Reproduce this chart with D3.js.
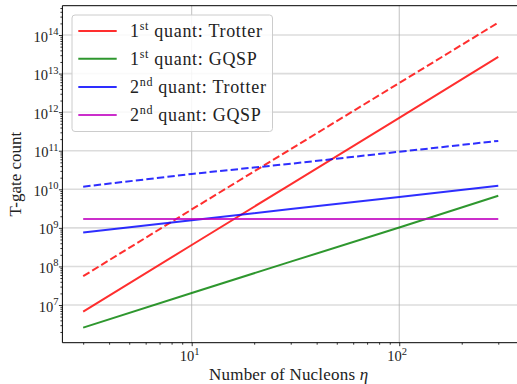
<!DOCTYPE html>
<html><head><meta charset="utf-8">
<script src="https://cdn.jsdelivr.net/npm/d3@7"></script>
<style>body{margin:0;background:#fff}svg{display:block}</style>
</head><body><svg id="c" width="517" height="384"></svg>
<script>
const eta = [3, 10, 30, 100, 300];
const firstTrotter = [6.7e6, 3.6e8, 1.35e10, 7.1e11, 2.7e13];
const firstTrotterDashed = [5.6e7, 3.0e9, 1.1e11, 5.7e12, 2.1e14];
const firstGQSP = [2.6e6, 2.05e7, 1.33e8, 1.02e9, 6.8e9];
const secondTrotter = [7.6e8, 1.57e9, 3.1e9, 6.3e9, 1.24e10];
const secondTrotterDashed = [1.17e10, 2.5e10, 4.6e10, 9.4e10, 1.8e11];
const secondGQSP = [1.71e9, 1.71e9, 1.71e9, 1.71e9, 1.71e9];
const xTicks = [10, 100];
const yTicks = [1e7, 1e8, 1e9, 1e10, 1e11, 1e12, 1e13, 1e14];
const legendLabels = [["1","st"," quant: Trotter"],["1","st"," quant: GQSP"],["2","nd"," quant: Trotter"],["2","nd"," quant: GQSP"]];

const series = [
  {v: firstTrotter, c: "#ff0000", dash: null},
  {v: firstTrotterDashed, c: "#ff0000", dash: "7.4,3.2"},
  {v: firstGQSP, c: "#008000", dash: null},
  {v: secondTrotter, c: "#0000ff", dash: null},
  {v: secondTrotterDashed, c: "#0000ff", dash: "7.4,3.2"},
  {v: secondGQSP, c: "#bf00bf", dash: null}
];
const legendColors = ["#ff0000", "#008000", "#0000ff", "#bf00bf"];

const svg = d3.select("#c");
const L = 62.4, R = 519, T = 5.7, B = 342.7;
const x = d3.scaleLog().domain([Math.pow(10,0.377), Math.pow(10,2.577)]).range([L, R]);
const y = d3.scaleLog().domain([Math.pow(10,6.023), Math.pow(10,14.76)]).range([B, T]);
const font = "'Liberation Serif', 'DejaVu Serif', serif";

// grid
svg.append("g").selectAll("line").data(yTicks).join("line")
  .attr("x1", L).attr("x2", R).attr("y1", d => y(d)).attr("y2", d => y(d))
  .attr("stroke", "#dcdcdc").attr("stroke-width", 1.6);
svg.append("g").selectAll("line").data(xTicks).join("line")
  .attr("y1", T).attr("y2", B).attr("x1", d => x(d)).attr("x2", d => x(d))
  .attr("stroke", "#b0b0b0").attr("stroke-width", 0.8);

// lines
const line = d3.line().x((d, i) => x(eta[i])).y(d => y(d));
svg.append("g").selectAll("path").data(series).join("path")
  .attr("d", d => line(d.v)).attr("fill", "none")
  .attr("stroke", d => d.c).attr("stroke-opacity", 0.82).attr("stroke-width", 2)
  .attr("stroke-dasharray", d => d.dash);

// axes
const xAxis = d3.axisBottom(x).tickValues(xTicks).tickSize(3.5).tickFormat("");
const xMinor = [];
for (let e = 0; e <= 2; e++) for (let m = 2; m <= 9; m++) { const v = m * Math.pow(10, e); if (v > x.domain()[0] && v < x.domain()[1]) xMinor.push(v); }
const yMinor = [];
for (let e = 6; e <= 14; e++) for (let m = 2; m <= 9; m++) { const v = m * Math.pow(10, e); if (v > y.domain()[0] && v < y.domain()[1]) yMinor.push(v); }

const gx = svg.append("g").attr("transform", `translate(0,${B})`);
gx.call(d3.axisBottom(x).tickValues(xMinor).tickSize(2).tickFormat(""));
gx.call(g => g.selectAll(".domain").remove());
const gx2 = svg.append("g").attr("transform", `translate(0,${B})`).call(xAxis);
gx2.select(".domain").remove();

const gy = svg.append("g").attr("transform", `translate(${L},0)`);
gy.call(d3.axisLeft(y).tickValues(yMinor).tickSize(2).tickFormat(""));
gy.select(".domain").remove();
const gy2 = svg.append("g").attr("transform", `translate(${L},0)`).call(d3.axisLeft(y).tickValues(yTicks).tickSize(3.5).tickFormat(""));
gy2.select(".domain").remove();
svg.selectAll("g.tick line").attr("stroke", "#000").attr("stroke-width", 0.8);

// spines
svg.append("line").attr("x1", L).attr("x2", L).attr("y1", T).attr("y2", B).attr("stroke", "#000").attr("stroke-width", 1);
svg.append("line").attr("x1", L).attr("x2", R).attr("y1", B).attr("y2", B).attr("stroke", "#000").attr("stroke-width", 1);
svg.append("line").attr("x1", L).attr("x2", R).attr("y1", T).attr("y2", T).attr("stroke", "#000").attr("stroke-width", 1);
svg.append("line").attr("x1", R-0.5).attr("x2", R-0.5).attr("y1", T).attr("y2", B).attr("stroke", "#000").attr("stroke-width", 1);

// tick labels
const ylab = svg.append("g").attr("font-family", font).attr("fill", "#222");
yTicks.forEach(t => {
  const e = Math.round(Math.log10(t));
  const tx = ylab.append("text").attr("x", 58.5).attr("y", y(t) + 6.5).attr("text-anchor", "end").attr("font-size", 14.5);
  tx.append("tspan").text("10");
  tx.append("tspan").attr("dy", -6.5).attr("font-size", 10.5).text(e);
});
xTicks.forEach(t => {
  const e = Math.round(Math.log10(t));
  const tx = ylab.append("text").attr("x", x(t) - 2).attr("y", 361).attr("text-anchor", "middle").attr("font-size", 14.5);
  tx.append("tspan").text("10");
  tx.append("tspan").attr("dy", -6.5).attr("font-size", 10.5).text(e);
});

// axis labels
const xl = svg.append("text").attr("x", (L + R) / 2 - 2).attr("y", 380).attr("text-anchor", "middle")
  .attr("font-family", font).attr("font-size", 17).attr("letter-spacing", 0.2).attr("fill", "#222");
xl.append("tspan").text("Number of Nucleons ");
xl.append("tspan").attr("font-style", "italic").text("η");
svg.append("text").attr("transform", `translate(21,${(T + B) / 2}) rotate(-90)`).attr("text-anchor", "middle")
  .attr("font-family", font).attr("font-size", 17).attr("fill", "#222").text("T-gate count");

// legend
const lg = svg.append("g");
lg.append("rect").attr("x", 72).attr("y", 15).attr("width", 200.5).attr("height", 116.5).attr("rx", 3)
  .attr("fill", "#fff").attr("fill-opacity", 0.85).attr("stroke", "#cccccc").attr("stroke-width", 1);
const rowY = [31, 58.7, 87, 115];
legendLabels.forEach((lab, i) => {
  lg.append("line").attr("x1", 78.3).attr("x2", 116.7).attr("y1", rowY[i]).attr("y2", rowY[i])
    .attr("stroke", legendColors[i]).attr("stroke-opacity", 0.82).attr("stroke-width", 2);
  const tx = lg.append("text").attr("x", 130).attr("y", rowY[i] + 6).attr("font-family", font).attr("font-size", 18).attr("letter-spacing", 0.7).attr("fill", "#222");
  tx.append("tspan").text(lab[0]);
  tx.append("tspan").attr("dy", -7).attr("font-size", 12).text(lab[1]);
  tx.append("tspan").attr("dy", 7).text(lab[2]);
});
</script></body></html>
